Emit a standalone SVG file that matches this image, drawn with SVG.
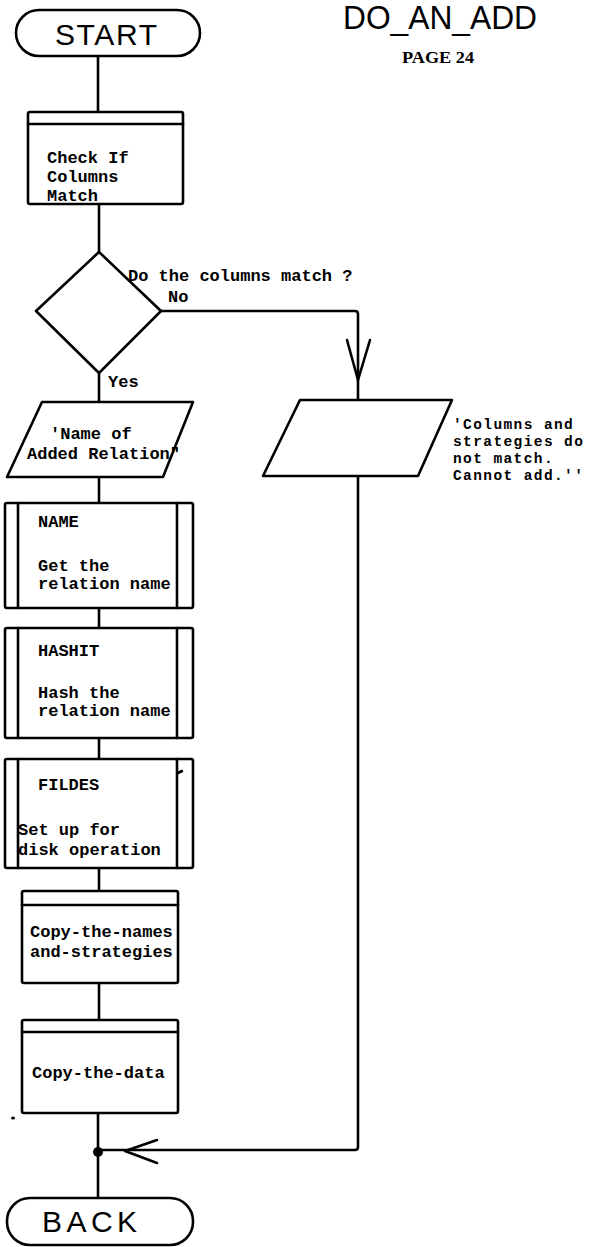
<svg xmlns="http://www.w3.org/2000/svg" width="589" height="1247" viewBox="0 0 589 1247">
<style>
.s{fill:none;stroke:#000;stroke-width:2.6;stroke-linejoin:round;stroke-linecap:round}
.f{fill:#fff;stroke:#000;stroke-width:2.6;stroke-linejoin:round}
.t{font-family:"Liberation Mono",monospace;font-weight:bold;font-size:17px;fill:#000}
.m{font-family:"Liberation Mono",monospace;font-weight:bold;font-size:14.5px;letter-spacing:1.4px;fill:#000}
.big{font-family:"Liberation Sans",Arial,sans-serif;font-size:30px;fill:#000}
</style>
<rect width="589" height="1247" fill="#fff"/>
<g id="connectors">
<path class="s" d="M98,57 V112"/>
<path class="s" d="M99,204 V252"/>
<path class="s" d="M99,373 V402"/>
<path class="s" d="M99,477 V503"/>
<path class="s" d="M99,608 V628"/>
<path class="s" d="M99,738 V759"/>
<path class="s" d="M99,868 V891"/>
<path class="s" d="M99,983 V1020"/>
<path class="s" d="M98,1113 V1198"/>
<path class="s" d="M161,311 H355 Q358,311 358,314 V400"/>
<path class="s" d="M347,340 L358,380 L370,340"/>
<path class="s" d="M358,476 V1147 Q358,1150 355,1150 H98"/>
<path class="s" d="M157,1140 L125,1151 L157,1163"/>
<circle cx="98" cy="1152" r="5" fill="#000"/>
<text class="t" x="128" y="281">Do the columns match ?</text>
<text class="t" x="168" y="302">No</text>
<text class="t" x="108" y="387">Yes</text>
</g>
<g id="title">
<text x="343" y="29" font-family="Liberation Sans,Arial,sans-serif" font-size="33" textLength="194" lengthAdjust="spacingAndGlyphs">DO_AN_ADD</text>
<text x="402" y="63" font-family="Liberation Serif,Times New Roman,serif" font-weight="bold" font-size="16" textLength="72" lengthAdjust="spacingAndGlyphs">PAGE 24</text>
</g>
<g id="start">
<rect class="f" x="16" y="10" width="184" height="46" rx="23"/>
<text class="big" x="55" y="45" textLength="102" lengthAdjust="spacing">START</text>
</g>
<g id="check">
<rect class="f" x="28" y="112" width="155" height="92" rx="2"/>
<path class="s" d="M28,124 H183"/>
<text class="t" x="47" y="163">Check If</text>
<text class="t" x="47" y="182">Columns</text>
<text class="t" x="47" y="201">Match</text>
</g>
<g id="decision">
<polygon class="f" points="99,252 161,311 99,373 36,311"/>
</g>
<g id="name-prompt">
<polygon class="f" points="42,402 193,402 163,477 7,477"/>
<text class="t" x="50" y="439">'Name of</text>
<text class="t" x="27" y="459">Added Relation"</text>
</g>
<g id="error-msg">
<polygon class="f" points="300,400 452,400 418,476 263,476"/>
<text class="m" x="453" y="429">'Columns and</text>
<text class="m" x="453" y="446">strategies do</text>
<text class="m" x="453" y="463">not match.</text>
<text class="m" x="453" y="480">Cannot add.''</text>
</g>
<g id="name">
<rect class="f" x="5" y="503" width="188" height="105" rx="2"/>
<path class="s" d="M18,503 V608 M177,503 V608"/>
<text class="t" x="38" y="527">NAME</text>
<text class="t" x="38" y="571">Get the</text>
<text class="t" x="38" y="589">relation name</text>
</g>
<g id="hashit">
<rect class="f" x="5" y="628" width="188" height="110" rx="2"/>
<path class="s" d="M18,628 V738 M177,628 V738"/>
<text class="t" x="38" y="656">HASHIT</text>
<text class="t" x="38" y="698">Hash the</text>
<text class="t" x="38" y="716">relation name</text>
</g>
<g id="fildes">
<rect class="f" x="5" y="759" width="188" height="109" rx="2"/>
<path class="s" d="M18,759 V868 M177,759 V868"/>
<path class="s" d="M178,773 L182,771" stroke-width="1.5"/>
<text class="t" x="38" y="790">FILDES</text>
<text class="t" x="18" y="835">Set up for</text>
<text class="t" x="18" y="855">disk operation</text>
</g>
<g id="copy-names">
<rect class="f" x="22" y="891" width="156" height="92" rx="2"/>
<path class="s" d="M22,905 H178"/>
<text class="t" x="30" y="937">Copy-the-names</text>
<text class="t" x="30" y="957">and-strategies</text>
</g>
<g id="copy-data">
<rect class="f" x="22" y="1020" width="156" height="93" rx="2"/>
<path class="s" d="M22,1032 H178"/>
<text class="t" x="32" y="1078">Copy-the-data</text>
</g>
<ellipse cx="13" cy="1118" rx="2" ry="1.6" fill="#000"/>
<g id="back">
<rect class="f" x="7" y="1198" width="186" height="47" rx="23"/>
<text class="big" x="42" y="1232" textLength="95" lengthAdjust="spacing">BACK</text>
</g>
</svg>
